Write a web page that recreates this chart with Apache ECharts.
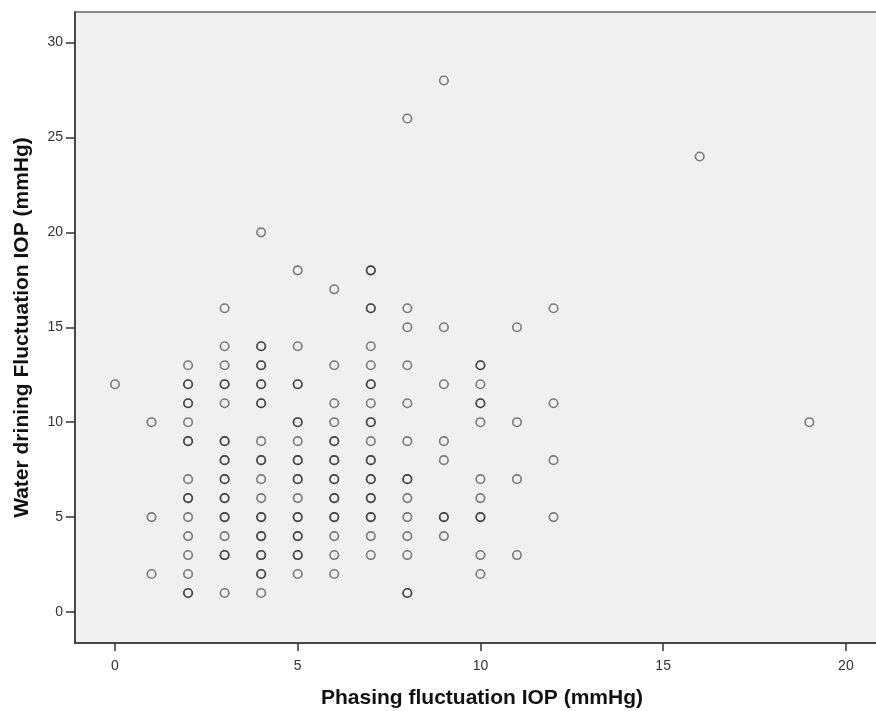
<!DOCTYPE html>
<html>
<head>
<meta charset="utf-8">
<script src="https://cdn.jsdelivr.net/npm/echarts@6/dist/echarts.min.js"></script>
<style>
html,body{margin:0;padding:0;background:#fff;overflow:hidden;}
#chart{width:876px;height:711px;}
</style>
</head>
<body>
<div id="chart"></div>
<script>
// Water drining fluctuation IOP values grouped by phasing fluctuation IOP (repeated values = overlapping points)
const phasing0 = [12];
const phasing1 = [10, 5, 2];
const phasing2 = [13, 12, 12, 11, 11, 10, 9, 9, 7, 6, 6, 5, 4, 3, 2, 1, 1];
const phasing3 = [16, 14, 13, 12, 12, 11, 9, 9, 8, 8, 7, 7, 6, 6, 5, 5, 4, 3, 3, 1];
const phasing4 = [20, 14, 14, 13, 13, 12, 12, 11, 11, 9, 8, 8, 7, 6, 5, 5, 4, 4, 3, 3, 2, 2, 1];
const phasing5 = [18, 14, 12, 12, 10, 10, 9, 8, 8, 7, 7, 6, 5, 5, 4, 4, 3, 3, 2];
const phasing6 = [17, 13, 11, 10, 9, 9, 8, 8, 7, 7, 6, 6, 5, 5, 4, 3, 2];
const phasing7 = [18, 18, 16, 16, 14, 13, 12, 12, 11, 10, 10, 9, 8, 8, 7, 7, 6, 6, 5, 5, 4, 3];
const phasing8 = [26, 16, 15, 13, 11, 9, 7, 7, 6, 5, 4, 3, 1, 1];
const phasing9 = [28, 15, 12, 9, 8, 5, 5, 4];
const phasing10 = [13, 13, 12, 11, 11, 10, 7, 6, 5, 5, 3, 2];
const phasing11 = [15, 10, 7, 3];
const phasing12 = [16, 11, 8, 5];
const phasing16 = [24];
const phasing19 = [10];

const phasingLevels = [0, 1, 2, 3, 4, 5, 6, 7, 8, 9, 10, 11, 12, 16, 19];
const waterGroups = [phasing0, phasing1, phasing2, phasing3, phasing4, phasing5, phasing6,
  phasing7, phasing8, phasing9, phasing10, phasing11, phasing12, phasing16, phasing19];

const xTicks = [0, 5, 10, 15, 20];
const yTicks = [0, 5, 10, 15, 20, 25, 30];

const points = [];
phasingLevels.forEach((p, i) => {
  waterGroups[i].forEach(w => points.push([p, w]));
});

const chart = echarts.init(document.getElementById('chart'), null, {renderer: 'canvas'});
const labelFont = {fontFamily: 'Liberation Sans', fontSize: 14, color: '#333'};
const nameFont = {fontFamily: 'Liberation Sans', fontWeight: 'bold', fontSize: 21, color: '#111'};

chart.setOption({
  animation: false,
  backgroundColor: '#fff',
  grid: {
    left: 75, top: 12, width: 814, bottom: 68,
    outerBoundsMode: 'none',
    containLabel: false,
    show: true, backgroundColor: '#f0f0f0', borderColor: '#8a8a8a', borderWidth: 2
  },
  xAxis: {
    type: 'value',
    min: -1.094, max: 21.18,
    name: 'Phasing fluctuation IOP (mmHg)',
    nameLocation: 'middle',
    nameGap: 45,
    nameTextStyle: nameFont,
    splitLine: {show: false},
    axisLine: {show: true, onZero: false, lineStyle: {color: '#333', width: 1.5}},
    axisTick: {show: true, length: 8, customValues: xTicks, lineStyle: {color: '#333', width: 1.5}},
    axisLabel: Object.assign({margin: 16, customValues: xTicks}, labelFont)
  },
  yAxis: {
    type: 'value',
    min: -1.633, max: 31.61,
    name: 'Water drining Fluctuation IOP (mmHg)',
    nameLocation: 'middle',
    nameGap: 42,
    nameTextStyle: nameFont,
    splitLine: {show: false},
    axisLine: {show: true, onZero: false, lineStyle: {color: '#333', width: 1.5}},
    axisTick: {show: true, length: 9, customValues: yTicks, lineStyle: {color: '#333', width: 1.5}},
    axisLabel: Object.assign({margin: 12, customValues: yTicks}, labelFont)
  },
  series: [{
    type: 'scatter',
    data: points,
    symbol: 'circle',
    symbolSize: 8.5,
    itemStyle: {color: 'rgba(0,0,0,0)', borderColor: 'rgba(20,20,20,0.68)', borderWidth: 1.6}
  }]
});
</script>
</body>
</html>
